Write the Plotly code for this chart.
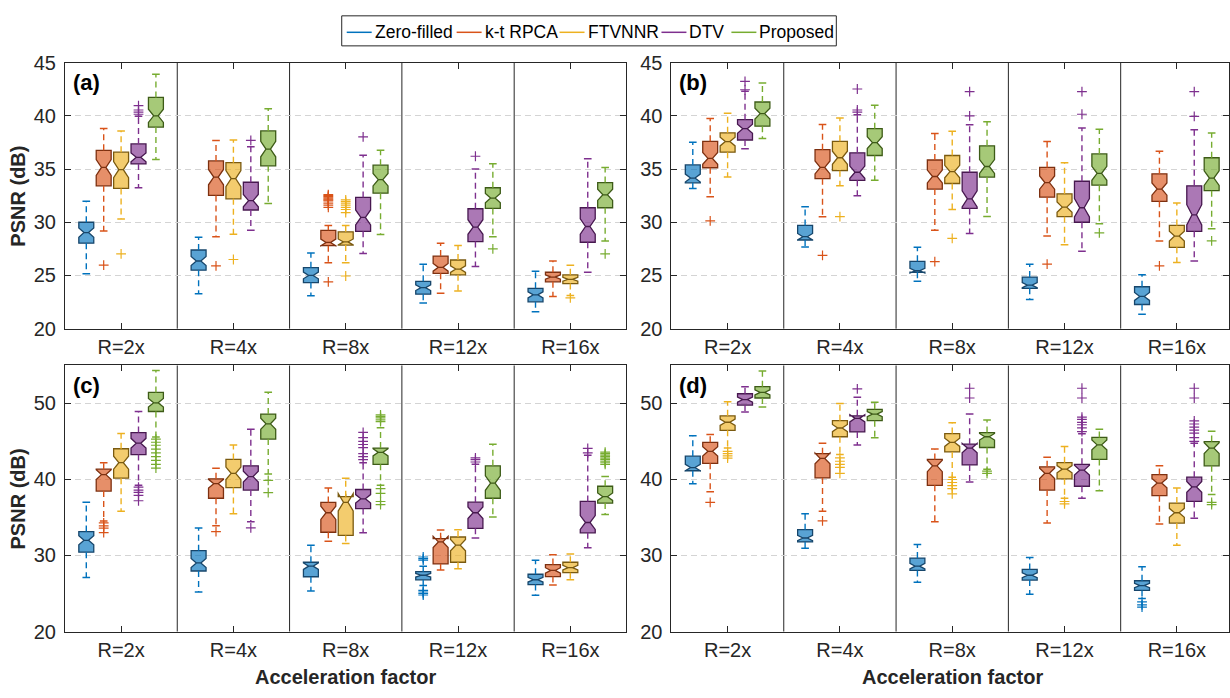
import math
import plotly.graph_objects as go

GROUPS = ["R=2x", "R=4x", "R=8x", "R=12x", "R=16x"]
METHODS = ["Zero-filled", "k-t RPCA", "FTVNNR", "DTV", "Proposed"]
COLORS = ["#0072BD", "#D95319", "#EDB120", "#7E2F8E", "#77AC30"]
EDGES = ["#17466b", "#7d3010", "#7a5a10", "#47184f", "#3d5b17"]

# rows = methods, columns = acceleration factors
a_lo = [[25.15, 23.27, 23.09, 22.42, 21.60],
        [29.18, 28.64, 26.20, 23.33, 23.03],
        [30.30, 28.88, 26.20, 23.55, 23.12],
        [33.24, 29.24, 27.06, 25.85, 25.30],
        [35.90, 31.76, 28.85, 28.64, 28.24]]
a_q1 = [[28.03, 25.50, 24.33, 23.24, 22.52],
        [33.42, 32.52, 27.80, 25.20, 24.40],
        [33.18, 32.20, 27.85, 25.06, 24.24],
        [35.48, 31.15, 29.15, 28.18, 28.12],
        [38.94, 35.30, 32.73, 31.30, 31.36]]
a_med = [[29.03, 26.36, 25.00, 23.85, 23.18],
         [35.15, 34.24, 28.10, 25.76, 24.85],
         [34.94, 34.10, 28.15, 25.60, 24.64],
         [36.10, 32.03, 30.45, 29.55, 29.60],
         [40.00, 36.88, 34.00, 32.27, 32.58]]
a_q3 = [[30.00, 27.39, 25.73, 24.45, 23.79],
        [36.76, 35.76, 29.24, 26.82, 25.30],
        [36.58, 35.60, 29.10, 26.45, 25.06],
        [37.36, 33.76, 32.33, 31.27, 31.36],
        [41.73, 38.58, 35.36, 33.24, 33.73]]
a_hi = [[31.97, 28.58, 27.12, 26.06, 25.39],
        [38.80, 37.67, 29.70, 28.03, 26.36],
        [38.58, 37.73, 29.70, 27.82, 25.97],
        [39.95, 37.10, 36.30, 35.00, 35.97],
        [43.90, 40.67, 36.76, 35.50, 35.15]]
a_out = [[[], [], [], [], []],
         [[25.97], [25.90], [24.4, 31.4, 31.6, 31.8, 32.0, 32.1, 32.2, 32.3, 32.4, 32.5, 32.6], [], []],
         [[27.03], [26.50], [24.95, 30.9, 31.2, 31.4, 31.6, 31.8, 31.95, 32.1], [], [22.9]],
         [[40.15, 40.35, 40.55, 40.95], [37.7], [38.03], [36.2], []],
         [[], [], [], [27.5], [27.03]]]

b_lo = [[33.18, 27.67, 24.45, 22.73, 21.36],
        [32.40, 30.52, 29.24, 28.70, 28.24],
        [34.24, 33.42, 31.20, 27.88, 26.21],
        [36.90, 32.48, 28.94, 27.27, 26.36],
        [37.88, 33.94, 30.55, 29.85, 29.39]]
b_q1 = [[33.70, 28.33, 25.30, 23.79, 22.27],
        [35.12, 34.09, 33.12, 32.36, 31.97],
        [36.58, 34.85, 33.64, 30.52, 27.64],
        [37.73, 33.94, 31.30, 30.00, 29.15],
        [39.03, 36.27, 34.24, 33.48, 32.97]]
b_med = [[34.15, 28.64, 25.45, 24.09, 23.03],
         [36.00, 35.15, 34.30, 33.73, 33.12],
         [37.58, 36.06, 34.76, 31.42, 28.70],
         [38.79, 34.70, 32.20, 31.36, 30.70],
         [40.21, 37.48, 35.24, 34.60, 34.15]]
b_q3 = [[35.39, 29.70, 26.33, 24.85, 23.94],
        [37.60, 36.82, 35.85, 35.15, 34.55],
        [38.40, 37.60, 36.27, 32.67, 29.70],
        [39.64, 36.52, 34.70, 33.85, 33.42],
        [41.30, 38.79, 37.18, 36.42, 36.06]]
b_hi = [[37.52, 31.45, 27.64, 26.06, 25.06],
        [39.76, 39.18, 38.33, 37.58, 36.67],
        [40.24, 39.79, 38.55, 35.60, 31.82],
        [42.30, 40.10, 39.15, 38.85, 38.70],
        [43.09, 41.00, 39.45, 38.73, 38.39]]
b_out = [[[], [], [], [], []],
         [[30.12], [26.88], [26.30], [26.06], [25.90]],
         [[], [30.52], [28.48], [], []],
         [[42.45, 43.24], [40.35, 40.55, 42.52], [40.0, 42.27], [40.15, 42.27], [39.94, 42.27]],
         [[], [], [], [29.0], [28.24]]]

c_lo = [[27.11, 25.19, 25.32, 26.04, 24.77],
        [34.55, 33.91, 31.87, 28.09, 26.13],
        [35.83, 35.49, 31.57, 28.26, 26.81],
        [39.23, 34.43, 32.98, 32.30, 31.02],
        [45.60, 40.72, 39.23, 35.06, 35.40]]
c_q1 = [[30.43, 27.96, 27.20, 26.80, 26.17],
        [38.47, 37.53, 33.06, 28.89, 27.23],
        [40.17, 38.94, 32.64, 29.11, 27.74],
        [43.28, 38.60, 36.17, 33.57, 32.98],
        [48.94, 45.32, 42.00, 37.53, 36.89]]
c_med = [[32.00, 29.02, 28.60, 27.40, 26.81],
         [40.64, 39.45, 35.62, 31.79, 28.04],
         [42.21, 40.81, 37.00, 31.36, 28.40],
         [44.77, 40.38, 37.45, 35.62, 34.34],
         [50.09, 47.32, 43.57, 39.53, 37.74]]
c_q3 = [[33.15, 30.64, 29.11, 27.87, 27.53],
        [41.36, 40.09, 36.98, 32.21, 28.81],
        [44.04, 42.64, 37.74, 32.43, 29.11],
        [46.17, 41.79, 38.68, 37.02, 37.11],
        [51.45, 48.60, 44.13, 41.79, 39.11]]
c_hi = [[37.02, 33.62, 31.36, 28.60, 29.36],
        [42.21, 41.49, 38.89, 33.36, 30.09],
        [46.04, 44.55, 40.17, 33.40, 30.21],
        [48.94, 46.60, 42.20, 42.00, 43.19],
        [54.34, 51.49, 46.80, 44.64, 40.40]]
c_out = [[[], [], [], [24.8, 25.0, 25.2, 25.4, 29.4, 29.6, 29.8], []],
         [[34.3, 33.9, 33.6, 33.0], [33.15], [], [], []],
         [[], [], [], [], []],
         [[39.0, 38.6, 38.3, 37.9, 37.2], [33.62], [42.6, 43.0, 43.4, 44.2, 44.6, 45.0, 45.5, 46.2],
          [42.3, 42.6, 42.85], [43.5, 44.1]],
         [[45.3, 44.9, 44.5, 44.0, 43.5, 43.0, 42.5, 42.0, 41.5], [39.87, 38.26],
          [47.6, 47.85, 48.1, 48.3, 48.5, 38.8, 38.17, 37.1, 36.7], [],
          [42.0, 42.2, 42.4, 42.6, 42.8, 43.0, 43.2, 43.4, 43.6]]]

d_lo = [[39.45, 30.94, 26.47, 24.89, 24.34],
        [38.38, 35.83, 34.43, 34.26, 34.13],
        [44.13, 43.28, 40.30, 37.53, 31.36],
        [48.89, 44.55, 39.66, 37.53, 34.89],
        [49.53, 45.49, 41.36, 38.51, 38.04]]
d_q1 = [[41.15, 31.79, 28.04, 26.77, 25.40],
        [42.13, 40.21, 39.23, 38.60, 37.87],
        [46.47, 45.62, 43.62, 40.09, 34.26],
        [49.79, 46.26, 41.91, 39.11, 37.11],
        [50.72, 47.74, 44.21, 42.64, 41.79]]
d_med = [[41.57, 32.30, 28.60, 27.40, 26.04],
         [43.70, 42.77, 41.79, 40.81, 39.53],
         [47.53, 46.77, 44.89, 41.36, 35.62],
         [50.51, 48.04, 44.13, 41.23, 39.02],
         [51.45, 48.60, 45.62, 44.55, 44.13]]
d_q3 = [[43.06, 33.40, 29.66, 28.17, 26.68],
        [44.89, 43.40, 42.64, 41.66, 40.64],
        [48.38, 47.74, 46.04, 42.21, 36.89],
        [51.28, 48.38, 44.64, 42.00, 40.30],
        [52.21, 49.23, 46.17, 45.53, 44.98]]
d_hi = [[45.74, 35.49, 31.45, 29.74, 28.51],
        [45.91, 44.77, 44.00, 42.94, 41.79],
        [50.21, 50.00, 47.45, 44.34, 38.89],
        [52.21, 50.81, 48.60, 46.00, 44.77],
        [54.26, 50.17, 47.83, 46.60, 46.34]]
d_out = [[[], [], [], [], [23.9, 23.5, 23.2]],
         [[36.98], [34.55], [], [], []],
         [[43.7, 43.4, 43.1, 42.8], [42.85, 42.4, 42.0, 41.6, 40.8], [40.0, 39.6, 39.2, 38.8, 38.1],
          [37.1, 36.8], []],
         [[], [51.91], [50.72, 52.0], [46.3, 46.8, 47.2, 47.5, 47.9, 48.2, 50.72, 52.0],
          [45.0, 45.5, 46.1, 46.5, 46.9, 47.3, 47.7, 50.72, 52.0]],
         [[], [], [41.1, 40.8], [], [37.0, 36.7]]]

TOP_TICKS = [20, 25, 30, 35, 40, 45]
BOTTOM_TICKS = [20, 30, 40, 50]

# ---------------- layout constants ----------------
W, H = 1230, 698
AX = "#262626"
FONT = "Liberation Sans, Arial, Helvetica, sans-serif"
OFFSETS = [-0.31, -0.155, 0.0, 0.155, 0.31]
BOX_W = 0.133
CAP_W = 0.068
SAMPLE_N = 50


def px_x(p):
    return p / W


def px_y(p):
    return 1 - p / H


def rgba(hexc, a):
    hexc = hexc.lstrip("#")
    r, g, b = int(hexc[0:2], 16), int(hexc[2:4], 16), int(hexc[4:6], 16)
    return f"rgba({r},{g},{b},{a})"


left_dom = [px_x(65), px_x(627)]
right_dom = [px_x(672), 1.0]
right_end = 0.5 + (1230 - 672) / ((627 - 65) / 5.0)
top_dom = [px_y(328), px_y(53.3)]
bot_dom = [px_y(640.7), px_y(366)]

panels = [
    dict(lab="(a)", xs="x", ys="y", xd=left_dom, yd=top_dom, xr=[0.5, 5.5], yr=[20, 45], ticks=TOP_TICKS,
         st=(a_lo, a_q1, a_med, a_q3, a_hi, a_out)),
    dict(lab="(b)", xs="x2", ys="y2", xd=right_dom, yd=top_dom, xr=[0.5, right_end], yr=[20, 45], ticks=TOP_TICKS,
         st=(b_lo, b_q1, b_med, b_q3, b_hi, b_out)),
    dict(lab="(c)", xs="x3", ys="y3", xd=left_dom, yd=bot_dom, xr=[0.5, 5.5], yr=[20, 55], ticks=BOTTOM_TICKS,
         st=(c_lo, c_q1, c_med, c_q3, c_hi, c_out)),
    dict(lab="(d)", xs="x4", ys="y4", xd=right_dom, yd=bot_dom, xr=[0.5, right_end], yr=[20, 55], ticks=BOTTOM_TICKS,
         st=(d_lo, d_q1, d_med, d_q3, d_hi, d_out)),
]

fig = go.Figure()
layout = dict(width=W, height=H, margin=dict(l=0, r=0, t=0, b=0), paper_bgcolor="white",
              plot_bgcolor="white", showlegend=False, boxmode="overlay",
              font=dict(family=FONT, color=AX))
shapes = []
annotations = []

for i, p in enumerate(panels):
    lo, q1, med, q3, hi, out = p["st"]
    for m in range(len(METHODS)):
        xs = [g + 1 + OFFSETS[m] for g in range(len(GROUPS))]
        # whiskers (dashed)
        wx, wy, cx, cy, ox, oy = [], [], [], [], [], []
        for g, x in enumerate(xs):
            wx += [x, x, None, x, x, None]
            wy += [q1[m][g], lo[m][g], None, q3[m][g], hi[m][g], None]
            cx += [x - CAP_W / 2, x + CAP_W / 2, None, x - CAP_W / 2, x + CAP_W / 2, None]
            cy += [lo[m][g], lo[m][g], None, hi[m][g], hi[m][g], None]
            for v in out[m][g]:
                ox.append(x)
                oy.append(v)
        fig.add_trace(go.Scatter(x=wx, y=wy, mode="lines", xaxis=p["xs"], yaxis=p["ys"],
                                 line=dict(color=COLORS[m], width=1.4, dash="6px,4px"),
                                 hoverinfo="skip", showlegend=False))
        fig.add_trace(go.Scatter(x=cx, y=cy, mode="lines", xaxis=p["xs"], yaxis=p["ys"],
                                 line=dict(color=COLORS[m], width=1.5),
                                 hoverinfo="skip", showlegend=False))
        notch = [1.57 * (q3[m][g] - q1[m][g]) / math.sqrt(SAMPLE_N) for g in range(len(GROUPS))]
        fig.add_trace(go.Box(x=xs, q1=q1[m], median=med[m], q3=q3[m],
                             lowerfence=q1[m], upperfence=q3[m], notchspan=notch,
                             notched=True, notchwidth=0.35, width=BOX_W, whiskerwidth=0,
                             boxpoints=False, fillcolor=rgba(COLORS[m], 0.65),
                             line=dict(color=EDGES[m], width=1.3),
                             xaxis=p["xs"], yaxis=p["ys"], name=METHODS[m],
                             hoverinfo="skip", showlegend=False))
        if ox:
            fig.add_trace(go.Scatter(x=ox, y=oy, mode="markers", xaxis=p["xs"], yaxis=p["ys"],
                                     marker=dict(symbol="cross-thin", size=7,
                                                 line=dict(color=COLORS[m], width=1.2)),
                                     hoverinfo="skip", showlegend=False))

    sfx = "" if i == 0 else str(i + 1)
    layout["xaxis" + sfx] = dict(domain=p["xd"], range=p["xr"], anchor=p["ys"], tickmode="array",
                                 tickvals=[1, 2, 3, 4, 5], ticktext=GROUPS, ticks="inside", ticklen=6,
                                 tickwidth=1, tickcolor=AX, showline=True, linecolor=AX, linewidth=1,
                                 mirror="ticks", showgrid=False, zeroline=False,
                                 tickfont=dict(size=20, color=AX, family=FONT), fixedrange=True)
    layout["yaxis" + sfx] = dict(domain=p["yd"], range=p["yr"], anchor=p["xs"], tickmode="array",
                                 tickvals=p["ticks"], ticks="inside", ticklen=6, tickwidth=1,
                                 tickcolor=AX, showline=True, linecolor=AX, linewidth=1, mirror="ticks",
                                 showgrid=True, gridcolor="#d4d4d4", gridwidth=1, griddash="6px,4px",
                                 zeroline=False, tickfont=dict(size=20, color=AX, family=FONT),
                                 ticklabelstandoff=4, fixedrange=True)
    # separators between acceleration factors
    for g in range(1, len(GROUPS)):
        shapes.append(dict(type="line", xref=p["xs"], yref=p["ys"] + " domain", x0=g + 0.5, x1=g + 0.5,
                           y0=0, y1=1, line=dict(color=AX, width=1), layer="below"))
    # panel label
    annotations.append(dict(text="<b>" + p["lab"] + "</b>", xref="paper", yref="paper",
                            x=p["xd"][0] + px_x(6), y=p["yd"][1] - 21 / H, xanchor="left", yanchor="middle",
                            showarrow=False, font=dict(size=22, color="black", family=FONT)))

# axis titles
for yd in (top_dom, bot_dom):
    annotations.append(dict(text="<b>PSNR (dB)</b>", xref="paper", yref="paper", x=px_x(18),
                            y=(yd[0] + yd[1]) / 2, textangle=-90, xanchor="center", yanchor="middle",
                            showarrow=False, font=dict(size=20, color=AX, family=FONT)))
for xc in (346, 953):
    annotations.append(dict(text="<b>Acceleration factor</b>", xref="paper", yref="paper", x=px_x(xc),
                            y=px_y(688), xanchor="center", yanchor="middle", showarrow=False,
                            font=dict(size=20, color=AX, family=FONT)))

# legend (drawn manually, MATLAB style)
shapes.append(dict(type="rect", xref="paper", yref="paper", x0=px_x(342), x1=px_x(837),
                   y0=px_y(36), y1=px_y(5), line=dict(color=AX, width=1), fillcolor="white", layer="above"))
LEG_X = [347, 457, 560, 662, 732]
for m, name in enumerate(METHODS):
    shapes.append(dict(type="line", xref="paper", yref="paper", x0=px_x(LEG_X[m]), x1=px_x(LEG_X[m] + 25),
                       y0=px_y(22), y1=px_y(22), line=dict(color=COLORS[m], width=1.5), layer="above"))
    annotations.append(dict(text=name, xref="paper", yref="paper", x=px_x(LEG_X[m] + 26), y=px_y(21.5),
                            xanchor="left", yanchor="middle", showarrow=False,
                            font=dict(size=17.5, color="black", family=FONT)))

layout["shapes"] = shapes
layout["annotations"] = annotations
fig.update_layout(**layout)
fig.write_html("out.html", config={"displayModeBar": False})
